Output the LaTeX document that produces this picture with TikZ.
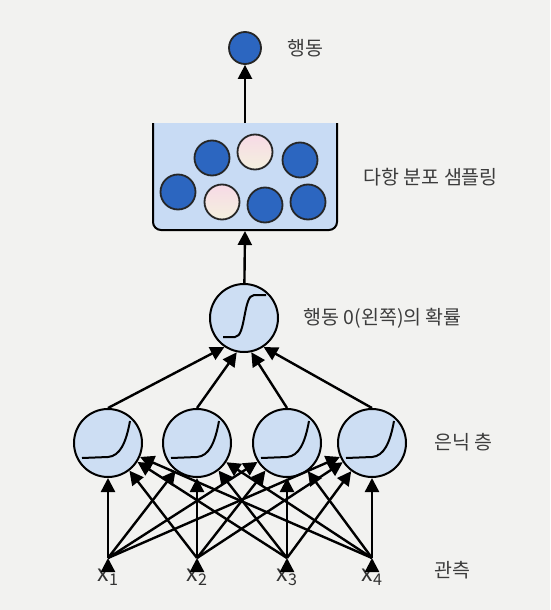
\documentclass[tikz,border=0pt]{standalone}
\usepackage{fontspec}
\setmainfont{Noto Sans CJK KR}
\usetikzlibrary{arrows.meta}

\definecolor{paper}{HTML}{F2F2F0}
\definecolor{unitfill}{HTML}{CDDEF3}
\definecolor{urnfill}{HTML}{C8DBF4}
\definecolor{ballblue}{HTML}{2C66C0}
\definecolor{pinktop}{HTML}{F7DAE6}
\definecolor{pinkbot}{HTML}{F4F0DE}
\definecolor{textgray}{HTML}{3C3C3C}

\tikzset{
  unit/.style={circle,draw,line width=2pt,fill=unitfill,minimum size=68pt,inner sep=0pt},
  ball/.style={circle,draw=black!85,line width=1.8pt,fill=ballblue,minimum size=35pt,inner sep=0pt},
  pinkball/.style={circle,draw=black!85,line width=1.8pt,top color=pinktop,bottom color=pinkbot,minimum size=35pt,inner sep=0pt},
  lbl/.style={anchor=west,text=textgray,font=\fontsize{19.5}{23}\selectfont},
  xlbl/.style={text=black!80,font=\fontsize{23}{26}\selectfont,inner sep=0pt},
  relu/.pic={\draw[line width=2pt] (-26,15) -- (0,14) .. controls (12,13) and (18,0) .. (22,-22);},
  sigm/.pic={\draw[line width=2pt] (-21,19) -- (-9,19) .. controls (2,19) and (-1,-23) .. (10,-23) -- (22,-23);}
}

\begin{document}
\begin{tikzpicture}[x=1pt,y=-1pt,line width=2.4pt,>={Triangle[length=14pt,width=14pt]}]
  \fill[paper] (0,0) rectangle (550,610);
  \useasboundingbox (0,0) rectangle (550,610);
  % sampling urn, open at the top
  \draw[fill=urnfill,line width=2pt,rounded corners=8pt] (153,123) -- (153,230) -- (337,230) -- (337,123);
  \coordinate (urntop) at (245,123);
  \coordinate (urnbot) at (245,231);
  \node[ball] (b1) at (212,158) {};
  \node[pinkball] (b2) at (255,152) {};
  \node[ball] (b3) at (300,160) {};
  \node[ball] (b4) at (178,192) {};
  \node[pinkball] (b5) at (222,202) {};
  \node[ball] (b6) at (265,205) {};
  \node[ball] (b7) at (308,202) {};
  \node[ball,minimum size=32pt] (act) at (245,48) {};
  \node[lbl] (actlbl) at (283,48) {행동};
  \node[lbl] (urnlbl) at (359,177) {다항 분포 샘플링};
  % output unit
  \node[unit] (out) at (244,318) {};
  \pic at (out) {sigm};
  \node[lbl] (outlbl) at (299,318) {행동 0(왼쪽)의 확률};
  % hidden layer
  \node[unit] (h1) at (108,443) {};
  \node[unit] (h2) at (197,443) {};
  \node[unit] (h3) at (287,443) {};
  \node[unit] (h4) at (372,443) {};
  \pic at (h1) {relu};
  \pic at (h2) {relu};
  \pic at (h3) {relu};
  \pic at (h4) {relu};
  \node[lbl] (hidlbl) at (430,442) {은닉 층};
  % observations
  \coordinate (i1) at (108,558);
  \coordinate (i2) at (197,558);
  \coordinate (i3) at (287,558);
  \coordinate (i4) at (372,558);
  \node[xlbl,below=10pt] (x1) at (i1) {x\textsubscript{1}};
  \node[xlbl,below=10pt] (x2) at (i2) {x\textsubscript{2}};
  \node[xlbl,below=10pt] (x3) at (i3) {x\textsubscript{3}};
  \node[xlbl,below=10pt] (x4) at (i4) {x\textsubscript{4}};
  \node[lbl] (obslbl) at (430,570) {관측};
  % connections
  \draw[->] (urntop) -- (act);
  \draw[->] (out) -- (urnbot);
  \draw[->] (h1.north) -- (out.236);
  \draw[->] (h2.north) -- (out.258);
  \draw[->] (h3.north) -- (out.282);
  \draw[->] (h4.north) -- (out.304);
  \draw[->] (i1) edge (h1) edge (h2) edge (h3) edge (h4);
  \draw[->] (i2) edge (h1) edge (h2) edge (h3) edge (h4);
  \draw[->] (i3) edge (h1) edge (h2) edge (h3) edge (h4);
  \draw[->] (i4) edge (h1) edge (h2) edge (h3) edge (h4);
\end{tikzpicture}
\end{document}
